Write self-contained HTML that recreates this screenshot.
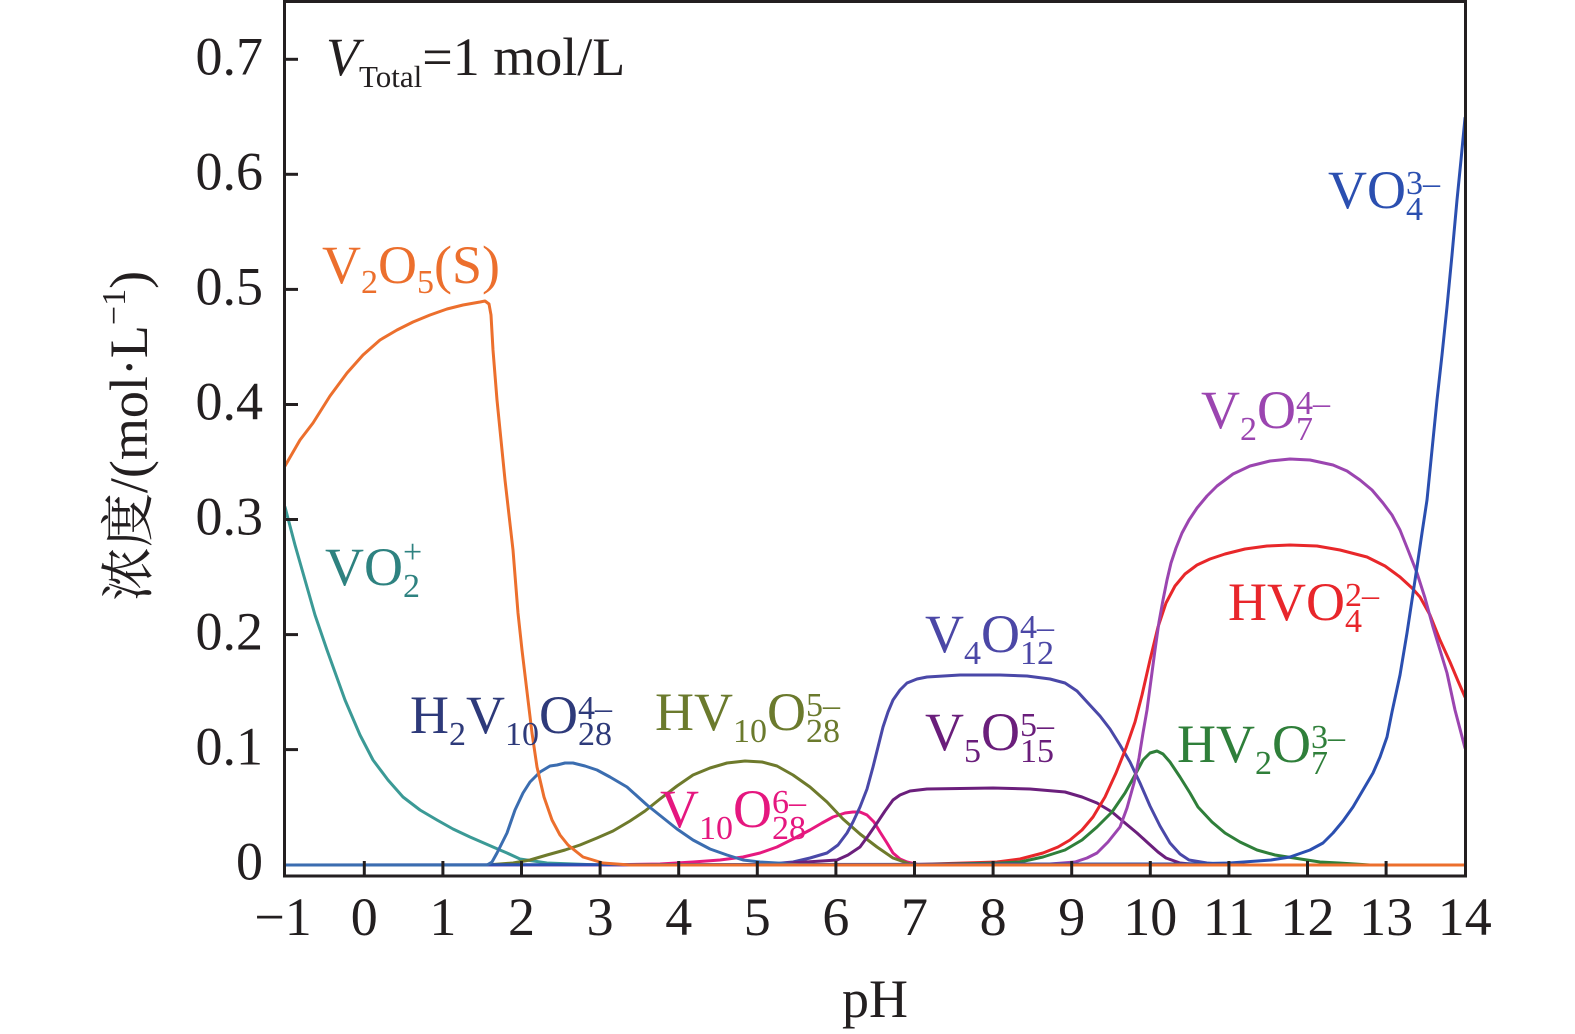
<!DOCTYPE html>
<html>
<head>
<meta charset="utf-8">
<style>
html,body{margin:0;padding:0;background:#fff;}
svg{display:block;}
text{font-family:"Liberation Serif","Noto Serif CJK SC",serif;}
</style>
</head>
<body>
<svg width="1575" height="1034" viewBox="0 0 1575 1034" xmlns="http://www.w3.org/2000/svg">
<rect width="1575" height="1034" fill="#fff"/>

<g fill="none" stroke-width="3" stroke-linejoin="round" stroke-linecap="round">
<!-- teal VO2+ -->
<polyline stroke="#3b9a96" points="285,507 295,545 305,580 315,615 327,650 345,700 360,735 373,760 388,780 403,797 420,810 437,820 453,829 470,837 493,847 507,853 520,859 547,863 600,865 1465,865"/>
<!-- magenta V10O28 6- -->
<polyline stroke="#e6197f" points="285,865 600,865 660,864 693,862 720,860 743,857 760,853 777,847 793,839 810,830 822,823 833,817 845,813 853,812 860,812 867,815 874,822 880,832 887,843 893,853 900,859 907,862 920,865 1465,865"/>
<!-- olive HV10O28 5- -->
<polyline stroke="#6e7a2c" points="285,865 487,865 513,863 530,860 547,855 565,850 580,845 597,838 613,831 630,821 645,811 660,799 677,786 693,775 710,768 727,763 745,761 762,762 777,766 793,775 810,787 827,802 843,819 860,834 877,847 893,858 910,864 925,865 1465,865"/>
<!-- slate V4O12 4- -->
<polyline stroke="#4a48a8" points="285,865 760,865 793,862 810,858 827,853 838,845 847,833 853,822 860,807 867,789 873,767 878,747 883,727 888,712 893,700 900,690 907,683 917,679 927,677 960,675 1000,675 1027,676 1050,679 1065,683 1077,691 1088,703 1100,716 1110,729 1120,745 1130,762 1140,783 1150,806 1160,826 1170,843 1180,854 1189,860 1207,863 1230,865 1465,865"/>
<!-- purple V5O15 5- -->
<polyline stroke="#6b1f7c" points="285,865 760,865 837,860 848,855 860,847 868,836 877,823 885,811 893,800 900,795 910,791 927,789 993,788 1030,789 1065,792 1082,797 1097,803 1112,812 1125,823 1137,833 1148,843 1158,852 1166,858 1180,863 1200,865 1465,865"/>
<!-- red HVO4 2- -->
<polyline stroke="#e8272a" points="285,865 900,865 997,862 1020,859 1043,853 1058,847 1070,840 1082,830 1093,817 1105,797 1116,773 1126,748 1135,722 1142,695 1150,660 1158,627 1166,603 1175,586 1185,574 1197,565 1210,559 1225,554 1245,549 1267,546 1290,545 1317,546 1340,550 1367,557 1385,566 1400,577 1412,588 1420,597 1430,615 1440,640 1450,662 1458,681 1465,697"/>
<!-- green HV2O7 3- -->
<polyline stroke="#2f7f3a" points="285,865 900,865 1000,863 1020,862 1043,857 1065,850 1082,840 1097,827 1112,812 1125,793 1135,775 1143,760 1150,753 1157,751 1163,754 1170,762 1180,777 1190,793 1198,807 1212,822 1225,833 1240,842 1257,850 1275,855 1294,858 1320,862 1339,863 1370,865 1465,865"/>
<!-- violet V2O7 4- -->
<polyline stroke="#9b45b0" points="285,865 900,865 1050,864 1075,862 1087,858 1097,853 1108,842 1120,827 1127,808 1134,783 1139,758 1143,733 1147,710 1151,680 1155,650 1159,622 1163,600 1167,580 1171,563 1176,548 1182,533 1189,520 1197,508 1207,496 1217,486 1233,474 1250,466 1270,461 1290,459 1310,460 1333,465 1347,471 1360,480 1372,490 1383,503 1392,515 1400,530 1408,550 1417,573 1425,598 1433,627 1440,650 1447,673 1455,710 1465,748"/>
<!-- blue VO4 3- -->
<polyline stroke="#2b4fb0" points="285,865 1180,864 1230,863 1271,860 1290,857 1310,850 1323,843 1333,833 1343,821 1353,807 1363,790 1373,773 1380,757 1387,737 1392,712 1400,675 1407,633 1412,600 1417,567 1422,533 1427,500 1432,450 1437,400 1442,355 1447,307 1452,255 1457,200 1461,160 1465,118"/>
<!-- steel blue H2V10O28 4- -->
<polyline stroke="#3b6db0" points="285,865 487,865 492,862 497,853 502,843 507,833 515,810 523,793 530,782 540,772 550,766 557,765 565,763 573,763 585,766 597,770 610,777 627,787 647,805 662,817 677,829 693,840 710,849 727,855 743,860 760,862 777,863 800,865 1465,865"/>
<!-- orange V2O5(S) -->
<polyline stroke="#ec6f2d" points="285,466 300,440 313,423 330,396 347,373 363,355 380,340 397,330 413,322 430,315 447,309 463,305 480,302 485,301 489,304 491,315 493,350 497,400 501,440 505,480 509,515 513,550 518,613 522,650 528,700 532,733 537,767 544,797 552,820 560,835 568,845 583,857 603,863 630,865 1465,865"/>
</g>

<!-- axes box -->
<g stroke="#231f20" stroke-width="3" fill="none">
<rect x="284.5" y="1.5" width="1181" height="874.5"/>
<line x1="284" y1="749.6" x2="298" y2="749.6"/>
<line x1="284" y1="634.6" x2="298" y2="634.6"/>
<line x1="284" y1="519.5" x2="298" y2="519.5"/>
<line x1="284" y1="404.5" x2="298" y2="404.5"/>
<line x1="284" y1="289.4" x2="298" y2="289.4"/>
<line x1="284" y1="174.3" x2="298" y2="174.3"/>
<line x1="284" y1="59.3" x2="298" y2="59.3"/>
<line x1="364.3" y1="876" x2="364.3" y2="861"/>
<line x1="442.9" y1="876" x2="442.9" y2="861"/>
<line x1="521.5" y1="876" x2="521.5" y2="861"/>
<line x1="600.1" y1="876" x2="600.1" y2="861"/>
<line x1="678.7" y1="876" x2="678.7" y2="861"/>
<line x1="757.3" y1="876" x2="757.3" y2="861"/>
<line x1="835.9" y1="876" x2="835.9" y2="861"/>
<line x1="914.5" y1="876" x2="914.5" y2="861"/>
<line x1="993.1" y1="876" x2="993.1" y2="861"/>
<line x1="1071.7" y1="876" x2="1071.7" y2="861"/>
<line x1="1150.3" y1="876" x2="1150.3" y2="861"/>
<line x1="1228.9" y1="876" x2="1228.9" y2="861"/>
<line x1="1307.5" y1="876" x2="1307.5" y2="861"/>
<line x1="1386.1" y1="876" x2="1386.1" y2="861"/>
</g>

<!-- y tick labels -->
<g font-size="54" fill="#231f20" text-anchor="end">
<text x="263" y="879.7">0</text>
<text x="263" y="764.6">0.1</text>
<text x="263" y="649.6">0.2</text>
<text x="263" y="534.5">0.3</text>
<text x="263" y="419.5">0.4</text>
<text x="263" y="304.4">0.5</text>
<text x="263" y="189.3">0.6</text>
<text x="263" y="74.3">0.7</text>
</g>
<!-- x tick labels -->
<g font-size="54" fill="#231f20" text-anchor="middle">
<text x="283" y="935">−1</text>
<text x="364.3" y="935">0</text>
<text x="442.9" y="935">1</text>
<text x="521.5" y="935">2</text>
<text x="600.1" y="935">3</text>
<text x="678.7" y="935">4</text>
<text x="757.3" y="935">5</text>
<text x="835.9" y="935">6</text>
<text x="914.5" y="935">7</text>
<text x="993.1" y="935">8</text>
<text x="1071.7" y="935">9</text>
<text x="1150.3" y="935">10</text>
<text x="1228.9" y="935">11</text>
<text x="1307.5" y="935">12</text>
<text x="1386.1" y="935">13</text>
<text x="1464.7" y="935">14</text>
</g>

<!-- axis titles -->
<text x="875" y="1017" font-size="54" fill="#231f20" text-anchor="middle">pH</text>
<text x="147" y="436" font-size="54" fill="#231f20" text-anchor="middle" transform="rotate(-90 147 436)"><tspan font-family="'Noto Serif CJK SC','Noto Sans CJK SC',serif">浓度</tspan>/(mol·L<tspan font-size="34" dy="-22">−1</tspan><tspan dy="22">)</tspan></text>

<!-- V total -->
<text x="326" y="75" font-size="54" fill="#231f20"><tspan font-style="italic">V</tspan><tspan font-size="31" y="87">Total</tspan><tspan y="75">=1 mol/L</tspan></text>

<!-- series labels -->
<g font-size="54">
<text x="322" y="283" fill="#ec6f2d">V<tspan font-size="34" y="293">2</tspan><tspan y="283">O</tspan><tspan font-size="34" y="293">5</tspan><tspan y="283">(S)</tspan></text>

<text x="325" y="585" fill="#2e8280">VO<tspan font-size="34" y="597">2</tspan><tspan font-size="34" dx="-17" y="563">+</tspan></text>

<text x="410" y="733" fill="#2e3a7a">H<tspan font-size="34" y="745">2</tspan><tspan y="733">V</tspan><tspan font-size="34" y="745">10</tspan><tspan y="733">O</tspan><tspan font-size="34" y="745">28</tspan><tspan font-size="34" dx="-34" y="719">4–</tspan></text>

<text x="655" y="730" fill="#6b7a2d">HV<tspan font-size="34" y="742">10</tspan><tspan y="730">O</tspan><tspan font-size="34" y="742">28</tspan><tspan font-size="34" dx="-34" y="716">5–</tspan></text>

<text x="660" y="827" fill="#e5177f">V<tspan font-size="34" y="839">10</tspan><tspan y="827">O</tspan><tspan font-size="34" y="839">28</tspan><tspan font-size="34" dx="-34" y="813">6–</tspan></text>

<text x="925" y="652" fill="#4b47a6">V<tspan font-size="34" y="664">4</tspan><tspan y="652">O</tspan><tspan font-size="34" y="664">12</tspan><tspan font-size="34" dx="-34" y="638">4–</tspan></text>

<text x="925" y="750" fill="#6a1e7b">V<tspan font-size="34" y="762">5</tspan><tspan y="750">O</tspan><tspan font-size="34" y="762">15</tspan><tspan font-size="34" dx="-34" y="736">5–</tspan></text>

<text x="1177" y="762" fill="#2f7f3a">HV<tspan font-size="34" y="774">2</tspan><tspan y="762">O</tspan><tspan font-size="34" y="774">7</tspan><tspan font-size="34" dx="-17" y="748">3–</tspan></text>

<text x="1228" y="620" fill="#e8262b">HVO<tspan font-size="34" y="632">4</tspan><tspan font-size="34" dx="-17" y="606">2–</tspan></text>

<text x="1201" y="428" fill="#9b45b0">V<tspan font-size="34" y="440">2</tspan><tspan y="428">O</tspan><tspan font-size="34" y="440">7</tspan><tspan font-size="34" dx="-17" y="414">4–</tspan></text>

<text x="1328" y="208" fill="#2b4fb0">VO<tspan font-size="34" y="220">4</tspan><tspan font-size="34" dx="-17" y="194">3–</tspan></text>
</g>
</svg>
</body>
</html>
